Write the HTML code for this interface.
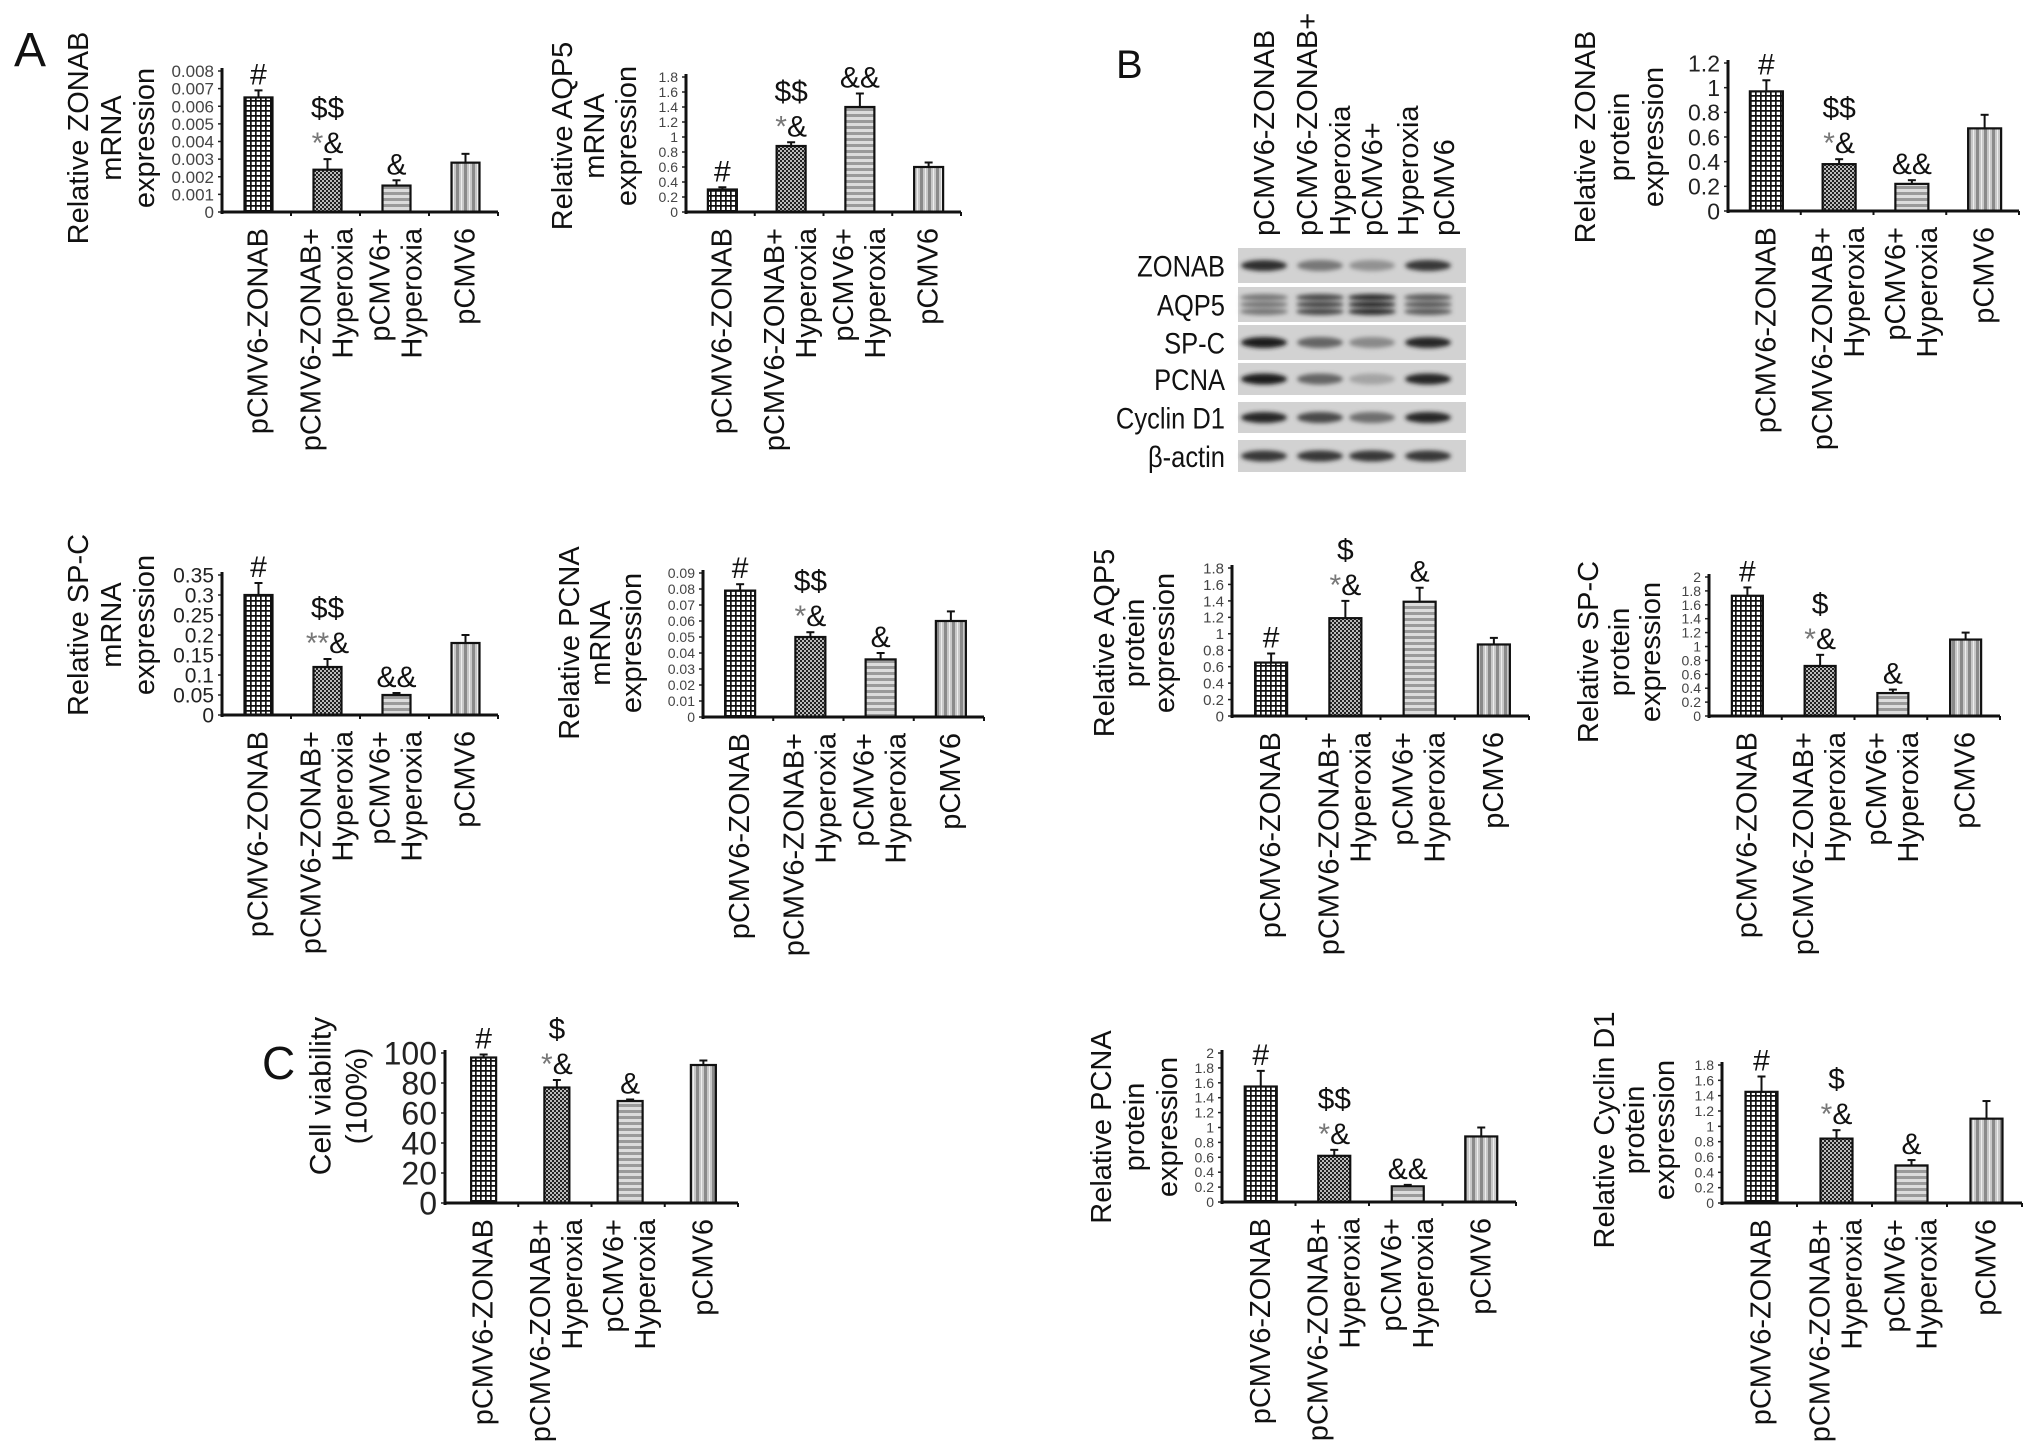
<!DOCTYPE html>
<html><head><meta charset="utf-8"><style>
html,body{margin:0;padding:0;background:#fff;}
svg{display:block;font-family:"Liberation Sans",sans-serif;}
</style></head><body>
<svg id="fig" width="2032" height="1454" viewBox="0 0 2032 1454" xmlns="http://www.w3.org/2000/svg">
<defs>
<pattern id="p1" width="5" height="5" patternUnits="userSpaceOnUse"><rect width="5" height="5" fill="#fff"/><path d="M0 0.8H5M0.8 0V5" stroke="#111" stroke-width="1.8"/></pattern>
<pattern id="p2" width="4" height="4" patternUnits="userSpaceOnUse"><rect width="4" height="4" fill="#bbb"/><rect width="2" height="2" fill="#222"/><rect x="2" y="2" width="2" height="2" fill="#222"/></pattern>
<pattern id="p3" width="6" height="6" patternUnits="userSpaceOnUse"><rect width="6" height="6" fill="#dcdcdc"/><rect y="0" width="6" height="3" fill="#9a9a9a"/></pattern>
<pattern id="p4" width="8" height="8" patternUnits="userSpaceOnUse"><rect width="8" height="8" fill="#c8c8c8"/><rect x="0" width="3" height="8" fill="#8a8a8a"/><rect x="5" width="1" height="8" fill="#eee"/></pattern>
<filter id="blur" x="-20%" y="-50%" width="140%" height="200%"><feGaussianBlur stdDeviation="2.2"/></filter>
</defs>
<g id="panels"></g>
</svg>
<script>
const cats = ["pCMV6-ZONAB","pCMV6-ZONAB+ Hyperoxia","pCMV6+ Hyperoxia","pCMV6"];
const catLines = [["pCMV6-ZONAB"],["pCMV6-ZONAB+","Hyperoxia"],["pCMV6+","Hyperoxia"],["pCMV6"]];

const zonabMrnaValues = [0.0065,0.0024,0.0015,0.0028];
const zonabMrnaErrors = [0.0004,0.0006,0.0003,0.0005];
const zonabMrnaTicks = ["0","0.001","0.002","0.003","0.004","0.005","0.006","0.007","0.008"];
const zonabMrnaMarks = [["#"],["$$","*&"],["&"],[]];

const aqp5MrnaValues = [0.30,0.88,1.40,0.60];
const aqp5MrnaErrors = [0.03,0.05,0.18,0.06];
const aqp5MrnaTicks = ["0","0.2","0.4","0.6","0.8","1","1.2","1.4","1.6","1.8"];
const aqp5MrnaMarks = [["#"],["$$","*&"],["&&"],[]];

const spcMrnaValues = [0.30,0.12,0.05,0.18];
const spcMrnaErrors = [0.03,0.02,0.005,0.02];
const spcMrnaTicks = ["0","0.05","0.1","0.15","0.2","0.25","0.3","0.35"];
const spcMrnaMarks = [["#"],["$$","**&"],["&&"],[]];

const pcnaMrnaValues = [0.079,0.050,0.036,0.060];
const pcnaMrnaErrors = [0.004,0.003,0.004,0.006];
const pcnaMrnaTicks = ["0","0.01","0.02","0.03","0.04","0.05","0.06","0.07","0.08","0.09"];
const pcnaMrnaMarks = [["#"],["$$","*&"],["&"],[]];

const zonabProtValues = [0.97,0.38,0.22,0.67];
const zonabProtErrors = [0.09,0.04,0.03,0.11];
const zonabProtTicks = ["0","0.2","0.4","0.6","0.8","1","1.2"];
const zonabProtMarks = [["#"],["$$","*&"],["&&"],[]];

const aqp5ProtValues = [0.65,1.19,1.39,0.87];
const aqp5ProtErrors = [0.11,0.21,0.17,0.08];
const aqp5ProtTicks = ["0","0.2","0.4","0.6","0.8","1","1.2","1.4","1.6","1.8"];
const aqp5ProtMarks = [["#"],["$","*&"],["&"],[]];

const spcProtValues = [1.73,0.72,0.33,1.10];
const spcProtErrors = [0.12,0.16,0.05,0.10];
const spcProtTicks = ["0","0.2","0.4","0.6","0.8","1","1.2","1.4","1.6","1.8","2"];
const spcProtMarks = [["#"],["$","*&"],["&"],[]];

const pcnaProtValues = [1.55,0.62,0.21,0.88];
const pcnaProtErrors = [0.21,0.08,0.02,0.12];
const pcnaProtTicks = ["0","0.2","0.4","0.6","0.8","1","1.2","1.4","1.6","1.8","2"];
const pcnaProtMarks = [["#"],["$$","*&"],["&&"],[]];

const cyclinProtValues = [1.45,0.84,0.49,1.10];
const cyclinProtErrors = [0.20,0.11,0.07,0.23];
const cyclinProtTicks = ["0","0.2","0.4","0.6","0.8","1","1.2","1.4","1.6","1.8"];
const cyclinProtMarks = [["#"],["$","*&"],["&"],[]];

const viabilityValues = [97,77,68,92];
const viabilityErrors = [2,5,1,3];
const viabilityTicks = ["0","20","40","60","80","100"];
const viabilityMarks = [["#"],["$","*&"],["&"],[]];

const blotProteins = ["ZONAB","AQP5","SP-C","PCNA","Cyclin D1","β-actin"];
const blotIntensity = [
  [0.85,0.45,0.30,0.80],
  [0.45,0.70,0.85,0.60],
  [0.95,0.55,0.35,0.90],
  [0.95,0.55,0.20,0.90],
  [0.90,0.70,0.50,0.90],
  [0.80,0.80,0.80,0.80]
];

const NS = "http://www.w3.org/2000/svg";
const root = document.getElementById("panels");
function mk(tag, attrs, parent, text) {
  const e = document.createElementNS(NS, tag);
  for (const k in attrs) e.setAttribute(k, attrs[k]);
  if (text !== undefined) e.textContent = text;
  (parent || root).appendChild(e);
  return e;
}
const fills = ["url(#p1)","url(#p2)","url(#p3)","url(#p4)"];

function chart(name, L, values, errors, ticks, marks, titles) {
  const g = mk("g", {});
  
  
  const maxV = parseFloat(ticks[ticks.length - 1]);
  const yS = v => L.y0 - v / maxV * (L.y0 - L.yTop);
  const cw = (L.x1 - L.x0) / values.length;
  const xC = i => L.x0 + (i + 0.5) * cw + 2;
  ticks.forEach((t, k) => {
    const y = yS(parseFloat(t));
    const tl = mk("text", {x: L.x0 - 8, y: y + L.tf * 0.36, "font-size": L.tf, "text-anchor": "end", fill: L.tc || "#444"}, g, t);
    
    
    mk("line", {x1: L.x0 - 4, x2: L.x0, y1: y, y2: y, stroke: "#222", "stroke-width": 1.5}, g);
  });
  values.forEach((v, i) => {
    const bw = L.bw;
    const x = xC(i) - bw / 2;
    const top = yS(v);
    const et = yS(v + errors[i]);
    const el = mk("line", {x1: xC(i), x2: xC(i), y1: top, y2: et, stroke: "#111", "stroke-width": 2}, g);
    
    
    mk("line", {x1: xC(i) - 4, x2: xC(i) + 4, y1: et, y2: et, stroke: "#111", "stroke-width": 2}, g);
    const b = mk("rect", {x: x, y: top, width: bw, height: L.y0 - top, fill: fills[i], stroke: "#111", "stroke-width": 2.2}, g);
    
    
    const m = marks[i];
    m.forEach((s, j) => {
      const yb = et - 6 - (m.length - 1 - j) * 35;
      const a = mk("text", {x: xC(i), y: yb, "font-size": 30, "text-anchor": "middle", fill: "#111"}, g);
      
      
      if (s.indexOf("*") >= 0) {
        const st = s.replace(/&/g, "");
        mk("tspan", {fill: "#777"}, a, st);
        mk("tspan", {}, a, s.slice(st.length));
      } else a.textContent = s;
    });
  });
  const ya = mk("line", {x1: L.x0, x2: L.x0, y1: L.yTop - 3, y2: L.y0 + 2, stroke: "#111", "stroke-width": 3}, g);
  
  
  const xa = mk("line", {x1: L.x0, x2: L.x1, y1: L.y0, y2: L.y0, stroke: "#111", "stroke-width": 3}, g);
  
  
  for (let k = 1; k <= values.length; k++) {
    const tx = L.x0 + k * cw;
    mk("line", {x1: tx, x2: tx, y1: L.y0, y2: L.y0 + 4, stroke: "#111", "stroke-width": 2}, g);
  }
  catLines.forEach((lines, i) => {
    lines.forEach((s, j) => {
      const bx = xC(i) + 9 + (j - (lines.length - 1) / 2) * 32;
      const y = L.y0 + 16;
      const t = mk("text", {x: bx, y: y, "font-size": 29, "text-anchor": "end", fill: "#111", transform: "rotate(-90 " + bx + " " + y + ")"}, g, s);
      
      
    });
  });
  const tf = L.titleFont || 29;
  titles.forEach((s, j) => {
    const bx = L.tx + j * L.ts + tf * 0.35;
    const t = mk("text", {x: bx, y: L.tcy, "font-size": tf, "text-anchor": "middle", fill: "#111", transform: "rotate(-90 " + bx + " " + L.tcy + ")"}, g, s);
    
    
  });
}

chart("zonab-mrna", {x0:222,x1:498,y0:212,yTop:71,tf:17,bw:28,tx:78,ts:33,tcy:138}, zonabMrnaValues, zonabMrnaErrors, zonabMrnaTicks, zonabMrnaMarks, ["Relative ZONAB","mRNA","expression"]);
chart("aqp5-mrna", {x0:686,x1:961,y0:212,yTop:77,tf:14,bw:29,tx:562,ts:32,tcy:136}, aqp5MrnaValues, aqp5MrnaErrors, aqp5MrnaTicks, aqp5MrnaMarks, ["Relative AQP5","mRNA","expression"]);
chart("zonab-protein", {x0:1728,x1:2019,y0:211,yTop:63,tf:23,tc:"#222",bw:33,tx:1585,ts:34,tcy:137}, zonabProtValues, zonabProtErrors, zonabProtTicks, zonabProtMarks, ["Relative ZONAB","protein","expression"]);
chart("spc-mrna", {x0:222,x1:498,y0:715,yTop:575,tf:21,tc:"#222",bw:28,tx:78,ts:33,tcy:625}, spcMrnaValues, spcMrnaErrors, spcMrnaTicks, spcMrnaMarks, ["Relative SP-C","mRNA","expression"]);
chart("pcna-mrna", {x0:703,x1:984,y0:717,yTop:573,tf:14,bw:30,tx:569,ts:31,tcy:643}, pcnaMrnaValues, pcnaMrnaErrors, pcnaMrnaTicks, pcnaMrnaMarks, ["Relative PCNA","mRNA","expression"]);
chart("aqp5-protein", {x0:1232,x1:1529,y0:716,yTop:568,tf:15,bw:32,tx:1104,ts:30,tcy:643}, aqp5ProtValues, aqp5ProtErrors, aqp5ProtTicks, aqp5ProtMarks, ["Relative AQP5","protein","expression"]);
chart("spc-protein", {x0:1709,x1:2000,y0:716,yTop:577,tf:14,bw:31,tx:1588,ts:31,tcy:652}, spcProtValues, spcProtErrors, spcProtTicks, spcProtMarks, ["Relative SP-C","protein","expression"]);
chart("pcna-protein", {x0:1222,x1:1516,y0:1202,yTop:1053,tf:14,bw:32,tx:1101,ts:33,tcy:1127}, pcnaProtValues, pcnaProtErrors, pcnaProtTicks, pcnaProtMarks, ["Relative PCNA","protein","expression"]);
chart("cyclin-d1-protein", {x0:1722,x1:2022,y0:1203,yTop:1065,tf:14,bw:32,tx:1604,ts:30,tcy:1130}, cyclinProtValues, cyclinProtErrors, cyclinProtTicks, cyclinProtMarks, ["Relative Cyclin D1","protein","expression"]);
chart("cell-viability", {x0:445,x1:738,y0:1203,yTop:1053,tf:32,tc:"#222",bw:25,tx:320,ts:36,tcy:1096,titleFont:30}, viabilityValues, viabilityErrors, viabilityTicks, viabilityMarks, ["Cell viability","(100%)"]);

[["A",14,66,48],["B",1116,78,40],["C",262,1079,46]].forEach(p => {
  const t = mk("text", {x: p[1], y: p[2], "font-size": p[3], fill: "#111"}, root, p[0]);
  
  
});

const blot = mk("g", {});


const laneX = [1264,1320,1372,1428];
const rowTop = [248,287,325,363,402,440];
const rowH = [35,35,35,32,31,32];
const laneLabelX = [1264,1307,1340,1372,1408,1444];
const laneLabels = ["pCMV6-ZONAB","pCMV6-ZONAB+","Hyperoxia","pCMV6+","Hyperoxia","pCMV6"];
laneLabels.forEach((s, k) => {
  const bx = laneLabelX[k] + 10, y = 236;
  const t = mk("text", {x: bx, y: y, "font-size": 29, "text-anchor": "start", fill: "#111", transform: "rotate(-90 " + bx + " " + y + ")"}, blot, s);
  
  
});
blotProteins.forEach((p, r) => {
  const y = rowTop[r], h = rowH[r];
  const bg = mk("rect", {x: 1238, y: y, width: 228, height: h, fill: "#d2d2d2"}, blot);
  
  
  const lab = mk("text", {x: 1225, y: y + h / 2 + 11, "font-size": 30, "text-anchor": "end", fill: "#111", transform: "translate(" + (1225 * 0.15) + ",0) scale(0.85,1)"}, blot, p);
  
  
  blotIntensity[r].forEach((d, l) => {
    const c = Math.round(200 - d * 180);
    if (r === 1) {
      [-7, 0, 7].forEach(dy => {
        mk("ellipse", {cx: laneX[l], cy: y + h / 2 + dy, rx: 24, ry: 3.5, fill: "rgb(" + c + "," + c + "," + c + ")", filter: "url(#blur)"}, blot);
      });
    } else {
      const band = mk("ellipse", {cx: laneX[l], cy: y + h / 2, rx: 23, ry: 5.5, fill: "rgb(" + c + "," + c + "," + c + ")", filter: "url(#blur)"}, blot);
      
      
    }
  });
});
</script>
</body></html>
